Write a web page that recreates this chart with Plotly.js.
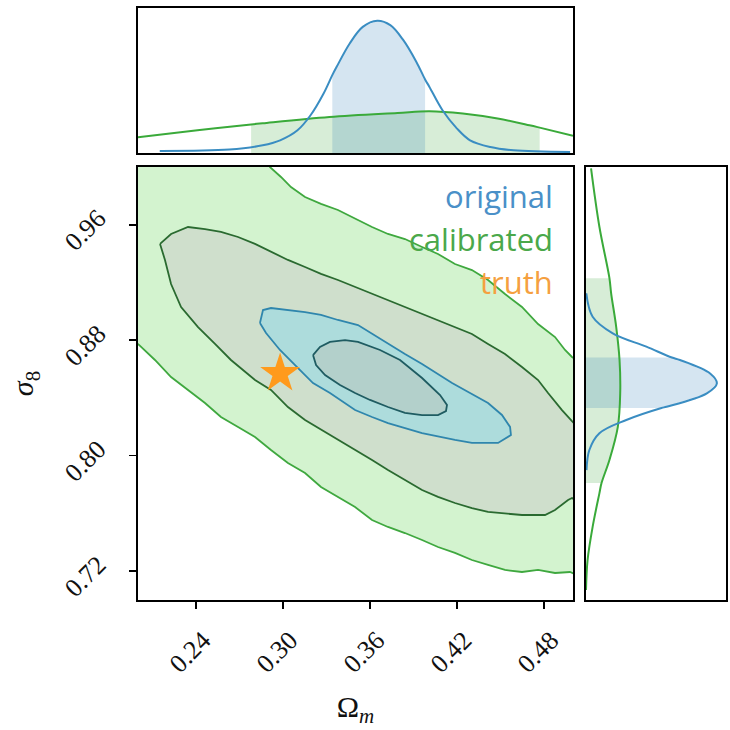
<!DOCTYPE html>
<html>
<head>
<meta charset="utf-8">
<script src="https://cdn.plot.ly/plotly-3.0.1.min.js"></script>
<style>html,body{margin:0;padding:0;background:#fff;}#plot{width:730px;height:730px;}</style>
</head>
<body>
<div id="plot"></div>
<script>
// ---------- data ----------
const omegaTicks = [0.24, 0.30, 0.36, 0.42, 0.48];
const omegaTickText = ["0.24", "0.30", "0.36", "0.42", "0.48"];
const sigmaTicks = [0.72, 0.80, 0.88, 0.96];
const sigmaTickText = ["0.72", "0.80", "0.88", "0.96"];

const truthOmega = [0.298];
const truthSigma = [0.857];

// calibrated 95% contour (points beyond the axes are clipped)
const g95Omega = [0.195, 0.2905, 0.2910, 0.2986, 0.3055, 0.3152, 0.3262, 0.3379, 0.3517, 0.3614, 0.3724, 0.3841, 0.3959, 0.4069, 0.4186, 0.4303, 0.4414, 0.4531, 0.4648, 0.4759, 0.4876, 0.4945, 0.4993, 0.506,
  0.506, 0.4979, 0.4876, 0.4759, 0.4648, 0.4531, 0.4414, 0.4303, 0.4186, 0.4069, 0.3959, 0.3841, 0.3724, 0.3614, 0.3497, 0.3379, 0.3262, 0.3152, 0.3034, 0.2917, 0.2807, 0.2690, 0.2572, 0.2462, 0.2345, 0.2228, 0.2117, 0.2007, 0.195, 0.195];
const g95Sigma = [1.006, 1.006, 1.000, 0.9931, 0.9861, 0.9792, 0.9744, 0.9702, 0.9633, 0.9584, 0.9536, 0.9501, 0.9446, 0.9397, 0.9328, 0.9286, 0.9217, 0.9120, 0.9030, 0.8912, 0.8822, 0.8732, 0.8684, 0.864,
  0.716, 0.7194, 0.7187, 0.7208, 0.7194, 0.7208, 0.7243, 0.7277, 0.7326, 0.7367, 0.7416, 0.7464, 0.7506, 0.7554, 0.7644, 0.7714, 0.7783, 0.7880, 0.7949, 0.8039, 0.8129, 0.8199, 0.8268, 0.8365, 0.8455, 0.8545, 0.8663, 0.8767, 0.881, 1.006];

// calibrated 68% contour
const g68Omega = [0.2152, 0.2228, 0.2345, 0.2462, 0.2572, 0.2690, 0.2807, 0.2917, 0.3034, 0.3152, 0.3262, 0.3379, 0.3497, 0.3614, 0.3724, 0.3841, 0.3959, 0.4069, 0.4186, 0.4303, 0.4414, 0.4531, 0.4648, 0.4759, 0.4828, 0.4924, 0.4993, 0.506,
  0.506, 0.4993, 0.4966, 0.4876, 0.4807, 0.4648, 0.4414, 0.4303, 0.4186, 0.4069, 0.3959, 0.3841, 0.3724, 0.3614, 0.3497, 0.3379, 0.3262, 0.3152, 0.3034, 0.2917, 0.2807, 0.2759, 0.2641, 0.2531, 0.2414, 0.2297, 0.2228, 0.2186, 0.2152];
const g68Sigma = [0.9467, 0.9536, 0.9584, 0.9570, 0.9550, 0.9515, 0.9467, 0.9411, 0.9356, 0.9307, 0.9259, 0.9217, 0.9169, 0.9120, 0.9079, 0.9030, 0.8982, 0.8940, 0.8891, 0.8843, 0.8774, 0.8704, 0.8614, 0.8524, 0.8434, 0.8316, 0.8240, 0.817,
  0.766, 0.7707, 0.7693, 0.7624, 0.7589, 0.7589, 0.7610, 0.7637, 0.7672, 0.7714, 0.7762, 0.7831, 0.7901, 0.7970, 0.8039, 0.8109, 0.8178, 0.8247, 0.8337, 0.8455, 0.8524, 0.8566, 0.8663, 0.8774, 0.8891, 0.9030, 0.9189, 0.9356, 0.9467];

// original 95% contour
const b95Omega = [0.2841, 0.2862, 0.2917, 0.3034, 0.3152, 0.3262, 0.3379, 0.3517, 0.3614, 0.3724, 0.3841, 0.3959, 0.4069, 0.4166, 0.4290, 0.4414, 0.4510, 0.4566, 0.4572,
  0.4483, 0.4303, 0.4186, 0.3959, 0.3724, 0.3614, 0.3497, 0.3324, 0.3207, 0.3097, 0.2979, 0.2883, 0.2841];
const b95Sigma = [0.8919, 0.9009, 0.9023, 0.9009, 0.8995, 0.8975, 0.8940, 0.8905, 0.8843, 0.8774, 0.8704, 0.8635, 0.8565, 0.8503, 0.8434, 0.8365, 0.8282, 0.8199, 0.8143,
  0.8088, 0.8088, 0.8109, 0.8157, 0.8226, 0.8268, 0.8316, 0.8434, 0.8503, 0.8614, 0.8732, 0.8850, 0.8919];

// original 68% contour
const b68Omega = [0.3207, 0.3255, 0.3324, 0.3428, 0.3517, 0.3669, 0.3807, 0.3959, 0.4083, 0.4131, 0.4124, 0.4069, 0.3959, 0.3841, 0.3724, 0.3600, 0.3497, 0.3393, 0.3290, 0.3228, 0.3207];
const b68Sigma = [0.8697, 0.8753, 0.8788, 0.8801, 0.8788, 0.8732, 0.8663, 0.8538, 0.8420, 0.8351, 0.8309, 0.8281, 0.8281, 0.8296, 0.8337, 0.8386, 0.8434, 0.8490, 0.8559, 0.8628, 0.8697];

// marginal of Omega_m
const omBlueX = [0.215, 0.263, 0.286, 0.298, 0.310, 0.319, 0.328, 0.334, 0.337, 0.346, 0.355, 0.365, 0.374, 0.383, 0.392, 0.398, 0.401, 0.410, 0.420, 0.429, 0.443, 0.459, 0.498];
const omBlueY = [0.19, 0.32, 0.72, 1.19, 2.13, 3.54, 5.58, 7.30, 8.08, 10.27, 11.83, 12.40, 11.99, 10.58, 8.54, 6.90, 6.20, 4.01, 2.29, 1.19, 0.56, 0.25, 0.09];
const omBlueBand = [0.334, 0.398];
const omGreenX = [0.200, 0.241, 0.278, 0.286, 0.332, 0.379, 0.401, 0.424, 0.448, 0.470, 0.477, 0.500];
const omGreenY = [1.48, 2.13, 2.68, 2.79, 3.38, 3.76, 3.92, 3.70, 3.23, 2.60, 2.38, 1.62];
const omGreenBand = [0.278, 0.477];

// marginal of sigma_8
const sgBlueX = [0.9125, 0.8963, 0.8848, 0.8755, 0.868, 0.8663, 0.8570, 0.8501, 0.8432, 0.8339, 0.833, 0.8247, 0.8155, 0.8039, 0.790];
const sgBlueY = [0.05, 1.09, 4.40, 9.92, 14.1, 15.43, 20.39, 21.50, 19.85, 13.23, 12.4, 6.62, 2.20, 0.55, 0.08];
const sgBlueBand = [0.833, 0.868];
const sgGreenX = [0.9991, 0.9586, 0.923, 0.9125, 0.8893, 0.8663, 0.8432, 0.8200, 0.7970, 0.781, 0.7739, 0.7507, 0.7277, 0.7069];
const sgGreenY = [0.83, 2.20, 3.85, 4.13, 4.96, 5.51, 5.62, 5.23, 3.85, 2.55, 2.20, 1.09, 0.26, 0.0];
const sgGreenBand = [0.781, 0.923];

const legendLabels = ["original", "calibrated", "truth"];

// ---------- styles ----------
const C = {
  g95fill: '#d3f3cf', g95line: '#3fa83f',
  g68fill: '#cfdfcc', g68line: '#2a6a30',
  b95fill: '#addcdc', b95line: '#2f86ad',
  b68fill: '#b3d0cb', b68line: '#1f5c62',
  blue: '#3a8dc2', green: '#3aaa3a',
  blueBand: 'rgba(31,119,180,0.19)', greenBand: 'rgba(44,160,44,0.19)',
  star: '#ff9a1c'
};

function band(xs, ys, lim) {
  const bx = [], by = [];
  for (let i = 0; i < xs.length; i++) {
    if (xs[i] >= lim[0] - 1e-9 && xs[i] <= lim[1] + 1e-9) { bx.push(xs[i]); by.push(ys[i]); }
  }
  return {bx, by};
}

const traces = [];
// main panel contours
traces.push({x: g95Omega, y: g95Sigma, type: 'scatter', mode: 'lines', fill: 'toself', fillcolor: C.g95fill, line: {color: C.g95line, width: 1.8}, xaxis: 'x', yaxis: 'y', hoverinfo: 'skip'});
traces.push({x: g68Omega, y: g68Sigma, type: 'scatter', mode: 'lines', fill: 'toself', fillcolor: C.g68fill, line: {color: C.g68line, width: 1.8}, xaxis: 'x', yaxis: 'y', hoverinfo: 'skip'});
traces.push({x: b95Omega, y: b95Sigma, type: 'scatter', mode: 'lines', fill: 'toself', fillcolor: C.b95fill, line: {color: C.b95line, width: 1.8}, xaxis: 'x', yaxis: 'y', hoverinfo: 'skip'});
traces.push({x: b68Omega, y: b68Sigma, type: 'scatter', mode: 'lines', fill: 'toself', fillcolor: C.b68fill, line: {color: C.b68line, width: 1.8}, xaxis: 'x', yaxis: 'y', hoverinfo: 'skip'});
traces.push({x: truthOmega, y: truthSigma, type: 'scatter', mode: 'markers', marker: {symbol: 'star', size: 30, color: C.star, line: {width: 0}}, xaxis: 'x', yaxis: 'y', cliponaxis: false});

// top marginal
const gb = band(omGreenX, omGreenY, omGreenBand);
traces.push({x: gb.bx, y: gb.by, type: 'scatter', mode: 'lines', fill: 'tozeroy', fillcolor: C.greenBand, line: {width: 0}, xaxis: 'x2', yaxis: 'y2'});
const bb = band(omBlueX, omBlueY, omBlueBand);
traces.push({x: bb.bx, y: bb.by, type: 'scatter', mode: 'lines', fill: 'tozeroy', fillcolor: C.blueBand, line: {width: 0}, xaxis: 'x2', yaxis: 'y2'});
traces.push({x: omGreenX, y: omGreenY, type: 'scatter', mode: 'lines', line: {color: C.green, width: 2, shape: 'spline'}, xaxis: 'x2', yaxis: 'y2'});
traces.push({x: omBlueX, y: omBlueY, type: 'scatter', mode: 'lines', line: {color: C.blue, width: 2, shape: 'spline'}, xaxis: 'x2', yaxis: 'y2'});

// right marginal
const gs = band(sgGreenX, sgGreenY, [sgGreenBand[0], sgGreenBand[1]]);
traces.push({y: gs.bx, x: gs.by, type: 'scatter', mode: 'lines', fill: 'tozerox', fillcolor: C.greenBand, line: {width: 0}, xaxis: 'x3', yaxis: 'y3'});
const bs = band(sgBlueX.slice().reverse(), sgBlueY.slice().reverse(), sgBlueBand);
traces.push({y: bs.bx, x: bs.by, type: 'scatter', mode: 'lines', fill: 'tozerox', fillcolor: C.blueBand, line: {width: 0}, xaxis: 'x3', yaxis: 'y3'});
traces.push({y: sgGreenX, x: sgGreenY, type: 'scatter', mode: 'lines', line: {color: C.green, width: 2, shape: 'spline'}, xaxis: 'x3', yaxis: 'y3'});
traces.push({y: sgBlueX, x: sgBlueY, type: 'scatter', mode: 'lines', line: {color: C.blue, width: 2, shape: 'spline'}, xaxis: 'x3', yaxis: 'y3'});

const W = 730;
const mainX = [138 / W, 573 / W], mainY = [1 - 600 / W, 1 - 167 / W];
const topY = [1 - 153 / W, 1 - 8 / W];
const rightX = [586 / W, 726 / W];

const tickFont = {family: 'Liberation Serif, DejaVu Serif, serif', size: 26, color: '#111'};
const frame = {showline: true, linecolor: '#000', linewidth: 1.6, mirror: true, showgrid: false, zeroline: false};

const legendColors = ['#4a90c8', '#4aa84a', '#f5a040'];
const legendY = [196, 239, 282];
const annotations = legendLabels.map((t, i) => ({
  text: t, xref: 'paper', yref: 'paper', x: 555 / W, y: 1 - legendY[i] / W,
  xanchor: 'right', yanchor: 'middle', showarrow: false,
  font: {family: 'Open Sans, Lato, sans-serif', size: 31, color: legendColors[i]}
}));

const layout = {
  width: 730, height: 730,
  margin: {l: 0, r: 0, t: 0, b: 0},
  paper_bgcolor: '#fff', plot_bgcolor: '#fff',
  showlegend: false,
  xaxis: Object.assign({}, frame, {domain: mainX, anchor: 'y', range: [0.2, 0.5], tickvals: omegaTicks, ticktext: omegaTickText,
    ticks: 'outside', ticklen: 7, tickwidth: 1.6, tickcolor: '#000', tickangle: -45, tickfont: tickFont,
    ticklabelstandoff: 6, ticklabelshift: 7,
    title: {text: 'Ω<sub><i>m</i></sub>', font: {family: 'Liberation Serif, DejaVu Serif, serif', size: 30, color: '#111'}, standoff: 18}}),
  yaxis: Object.assign({}, frame, {domain: mainY, anchor: 'x', range: [0.7, 1.0], tickvals: sigmaTicks, ticktext: sigmaTickText,
    ticks: 'outside', ticklen: 7, tickwidth: 1.6, tickcolor: '#000', tickangle: -45, tickfont: tickFont,
    ticklabelstandoff: 26, ticklabelshift: -10,
    title: {text: '<i>σ</i><sub>8</sub>', font: {family: 'Liberation Serif, DejaVu Serif, serif', size: 30, color: '#111'}, standoff: 16}}),
  xaxis2: Object.assign({}, frame, {domain: mainX, anchor: 'y2', range: [0.2, 0.5], showticklabels: false, ticks: ''}),
  yaxis2: Object.assign({}, frame, {domain: topY, anchor: 'x2', range: [0, 13.6], showticklabels: false, ticks: ''}),
  xaxis3: Object.assign({}, frame, {domain: rightX, anchor: 'y3', range: [0, 23.0], showticklabels: false, ticks: ''}),
  yaxis3: Object.assign({}, frame, {domain: mainY, anchor: 'x3', range: [0.7, 1.0], showticklabels: false, ticks: ''}),
  annotations: annotations
};

Plotly.newPlot('plot', traces, layout, {displayModeBar: false, staticPlot: true});
</script>
</body>
</html>
